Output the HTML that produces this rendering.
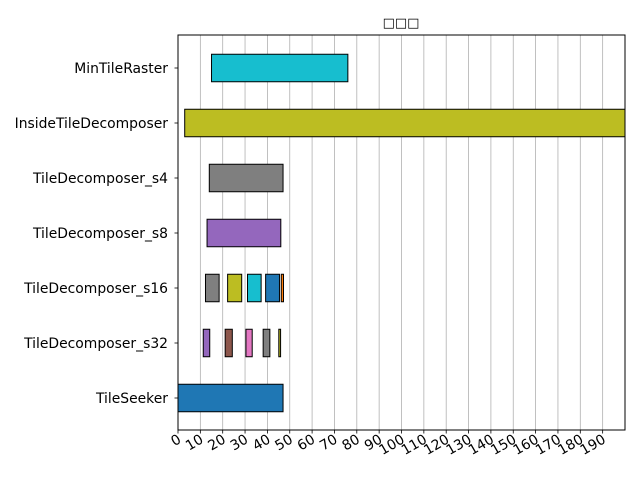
<!DOCTYPE html>
<html><head><meta charset="utf-8"><style>
body{margin:0;background:#fff}
svg text{font-family:"DejaVu Sans","Liberation Sans",sans-serif;font-size:13.9px;fill:#000}
</style></head><body>
<svg id="chart" width="640" height="480">
<text x="401" y="27" text-anchor="middle" style="font-size:13px">□□□</text>
<g id="grid"></g><g id="bars"></g><g id="axes"></g>
</svg>
<script>
const categories=["MinTileRaster","InsideTileDecomposer","TileDecomposer_s4","TileDecomposer_s8","TileDecomposer_s16","TileDecomposer_s32","TileSeeker"];
const segStarts=[[15],[3],[14],[13],[12.3,22.2,31.1,39.2,46.2],[11.3,21.1,30.4,38.1,45.1],[0]];
const segEnds=[[76],[210],[47],[46],[18.4,28.5,37.2,45.4,47.2],[14.2,24.3,33.2,41.1,45.9],[47]];
const segColors=[["#17becf"],["#bcbd22"],["#7f7f7f"],["#9467bd"],["#7f7f7f","#bcbd22","#17becf","#1f77b4","#ff7f0e"],["#9467bd","#8c564b","#e377c2","#7f7f7f","#bcbd22"],["#1f77b4"]];
const ticks=[0,10,20,30,40,50,60,70,80,90,100,110,120,130,140,150,160,170,180,190];
const L=178,R=625,T=35,B=430,xmax=200,Y0=68,DY=55;
const x=v=>L+(R-L)*v/xmax;
const y=i=>Y0+DY*i;
const ns="http://www.w3.org/2000/svg";
function mk(t,a,p){const e=document.createElementNS(ns,t);for(const k in a)e.setAttribute(k,a[k]);p.appendChild(e);return e;}
const grid=document.getElementById('grid'),bars=document.getElementById('bars'),axes=document.getElementById('axes');
ticks.forEach(t=>{
 const g=mk('line',{x1:x(t),x2:x(t),y1:T,y2:B,stroke:'#b0b0b0','stroke-width':0.8},grid);
 
 
 mk('line',{x1:x(t),x2:x(t),y1:B,y2:B+3.5,stroke:'#000','stroke-width':0.8},axes);
 const tx=mk('text',{x:0,y:0,'text-anchor':'end',transform:`translate(${x(t)+4},${B+12}) rotate(-30)`},axes);
 tx.textContent=t;
 
 
});
const clip=mk('clipPath',{id:'pc'},document.getElementById('chart'));
mk('rect',{x:L,y:T,width:R-L,height:B-T},clip);
bars.setAttribute('clip-path','url(#pc)');
categories.forEach((c,i)=>{
 const bh=DY*0.5;
 segStarts[i].forEach((s,j)=>{
  const r=mk('rect',{x:x(s),y:y(i)-bh/2,width:x(segEnds[i][j])-x(s),height:bh,fill:segColors[i][j],stroke:'#000','stroke-width':1},bars);
  
  
 });
 mk('line',{x1:L-3.5,x2:L,y1:y(i),y2:y(i),stroke:'#000','stroke-width':0.8},axes);
 const lb=mk('text',{x:L-10,y:y(i)+5,'text-anchor':'end'},axes);
 lb.textContent=c;
 
 
});
const fr=mk('rect',{x:L,y:T,width:R-L,height:B-T,fill:'none',stroke:'#000','stroke-width':1},axes);


</script>
</body></html>
